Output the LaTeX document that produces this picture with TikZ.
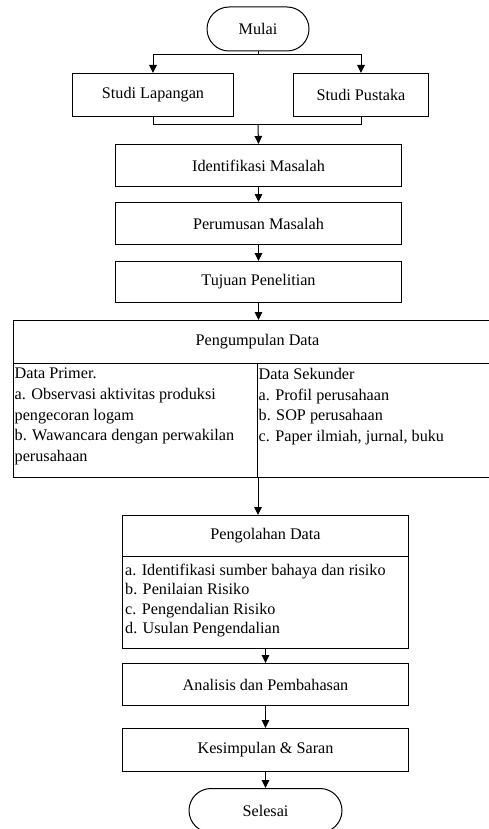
\documentclass[tikz,border=0pt]{standalone}
\usepackage{fontspec}
\setmainfont{Liberation Serif}
\usetikzlibrary{arrows.meta}
\begin{document}
\begin{tikzpicture}[x=1pt,y=-1pt,
  every node/.style={font=\fontsize{16.2}{20.6}\selectfont},
  box/.style={draw, line width=1pt, inner sep=0pt, anchor=north west},
  term/.style={draw, line width=1pt, rounded corners=22pt, inner sep=0pt, minimum height=44pt},
  txt/.style={inner sep=0pt, anchor=north west, align=left},
  ln/.style={line width=1pt},
  arr/.style={line width=1pt, -{Triangle[length=8pt,width=7.5pt]}}]
\useasboundingbox (0,0) rectangle (489,829);
\clip (0,0) rectangle (489,829);
% start
\node[term, minimum width=102pt] (mulai) at (258,29) {Mulai};
\node[box, minimum width=161pt, minimum height=43pt] (sl) at (72,73) {Studi Lapangan};
\node[box, minimum width=135pt, minimum height=43pt] (sp) at (293,73) {Studi Pustaka};
\node[box, minimum width=286pt, minimum height=42pt] (idm) at (115,144) {Identifikasi Masalah};
\node[box, minimum width=286pt, minimum height=42pt] (pm) at (115,202) {Perumusan Masalah};
\node[box, minimum width=286pt, minimum height=41pt] (tp) at (115,261) {Tujuan Penelitian};
% pengumpulan data
\node[box, minimum width=488pt, minimum height=43pt] (pdh) at (13,320) {Pengumpulan Data};
\node[box, minimum width=244pt, minimum height=114pt] (pdl) at (13,363) {};
\node[box, minimum width=244pt, minimum height=114pt] (pdr) at (257,363) {};
\node[txt] (pdlt) at ([xshift=1.5pt,yshift=-5pt]pdl.north west) {Data Primer.\\a. Observasi aktivitas produksi\\pengecoran logam\\b. Wawancara dengan perwakilan\\perusahaan};
\node[txt] (pdrt) at ([xshift=1.5pt,yshift=-5pt]pdr.north west) {Data Sekunder\\a. Profil perusahaan\\b. SOP perusahaan\\c. Paper ilmiah, jurnal, buku};
% pengolahan data
\node[box, minimum width=286pt, minimum height=41pt] (pgh) at (122,515) {Pengolahan Data};
\node[box, minimum width=286pt, minimum height=92pt] (pgb) at (122,556) {};
\node[txt, font=\fontsize{16.2}{19.2}\selectfont] (pgbt) at ([xshift=3pt,yshift=-8pt]pgb.north west) {a. Identifikasi sumber bahaya dan risiko\\b. Penilaian Risiko\\c. Pengendalian Risiko\\d. Usulan Pengendalian};
\node[box, minimum width=286pt, minimum height=42pt] (an) at (122,663) {Analisis dan Pembahasan};
\node[box, minimum width=286pt, minimum height=43pt] (ks) at (122,728) {Kesimpulan \& Saran};
\node[term, minimum width=153pt, anchor=north] (sel) at (265.5,788) {Selesai};
% connectors
\coordinate (j1) at (258,55);
\coordinate (j2) at (258,125);
\draw[ln] (mulai.south) -- (j1);
\draw[arr] (j1) -| (sl.north);
\draw[arr] (j1) -| (sp.north);
\draw[ln] (sl.south) |- (j2);
\draw[ln] (sp.south) |- (j2);
\draw[arr] (j2) -- (idm.north);
\draw[arr] (idm.south) -- (pm.north);
\draw[arr] (pm.south) -- (tp.north);
\draw[arr] (tp.south) -- (tp.south |- pdh.north);
\draw[arr] (pdl.south east) -- (pdl.south east |- pgh.north);
\draw[arr] (pgb.south) -- (an.north);
\draw[arr] (an.south) -- (ks.north);
\draw[arr] (ks.south) -- (sel.north);
\end{tikzpicture}
\end{document}
